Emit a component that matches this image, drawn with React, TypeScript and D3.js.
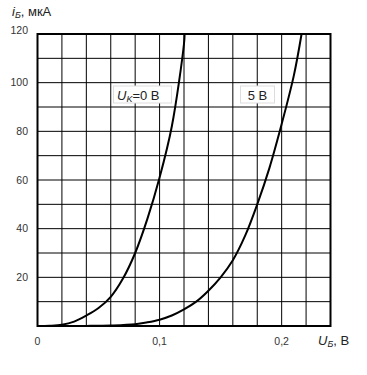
import React from 'react';
import * as d3 from 'd3';

// Input characteristic, Uk = 0 V
const ub0 = [0, 0.01, 0.02, 0.03, 0.04, 0.05, 0.06, 0.07, 0.08, 0.09, 0.1, 0.11, 0.12, 0.1205];
const ib0 = [0, 0.1, 0.5, 1.8, 4.3, 7.4, 12, 19.5, 30, 44, 61, 82, 116, 120];

// Uk = 5 V
const ub5 = [0, 0.04, 0.06, 0.08, 0.09, 0.1, 0.11, 0.12, 0.13, 0.14, 0.15, 0.16, 0.17, 0.18, 0.19, 0.2, 0.21, 0.2163];
const ib5 = [0, 0.05, 0.2, 0.7, 1.5, 2.6, 4.3, 6.8, 10, 14.5, 20, 27, 37, 50, 65, 83, 103, 120];

const xTicks = [0, 0.1, 0.2];
const xTickLabels = ['0', '0,1', '0,2'];
const yTicks = [20, 40, 60, 80, 100, 120];

const W = 367;
const H = 375;
const margin = { top: 34, right: 36.5, bottom: 49, left: 37.5 };

const App: React.FC = () => {
    const x = d3.scaleLinear().domain([0, 0.24]).range([margin.left, W - margin.right]);
    const y = d3.scaleLinear().domain([0, 120]).range([H - margin.bottom, margin.top]);

    const line = d3.line<[number, number]>()
        .x(d => x(d[0]))
        .y(d => y(d[1]))
        .curve(d3.curveCatmullRom.alpha(0.5));

    const pts0 = ub0.map((u, i) => [u, ib0[i]] as [number, number]);
    const pts5 = ub5.map((u, i) => [u, ib5[i]] as [number, number]);

    const xGrid = d3.range(0, 13).map(i => i * 0.02);
    const yGrid = d3.range(0, 13).map(i => i * 10);

    const font = 'Liberation Sans, Arial, sans-serif';

    return (
        <svg width={W} height={H} style={{ position: 'absolute', left: 0, top: 0 }} fontFamily={font}>
            <rect width={W} height={H} fill="#fff" />
            {/* grid */}
            <g stroke="#000" strokeWidth={1}>
                {xGrid.map((v, i) => (
                    <line key={'gx' + i} x1={x(v)} x2={x(v)} y1={y(0)} y2={y(120)} />
                ))}
                {yGrid.map((v, i) => (
                    <line key={'gy' + i} x1={x(0)} x2={x(0.24)} y1={y(v)} y2={y(v)} />
                ))}
            </g>
            {/* frame */}
            <rect x={x(0)} y={y(120)} width={x(0.24) - x(0)} height={y(0) - y(120)}
                fill="none" stroke="#000" strokeWidth={2} />

            {/* curves */}
            <path d={line(pts0) || ''} fill="none" stroke="#000" strokeWidth={2} />
            <path d={line(pts5) || ''} fill="none" stroke="#000" strokeWidth={2} />

            {/* curve labels */}
            <rect x={113.5} y={86} width={58} height={17} fill="#fff" stroke="#ddd" strokeWidth={1} />
            <text x={117} y={100} fontSize={13} fill="#222">
                <tspan fontStyle="italic">U</tspan>
                <tspan fontStyle="italic" fontSize={9} dy={2}>K</tspan>
                <tspan dy={-2}>=0 В</tspan>
            </text>
            <rect x={240.5} y={86} width={34} height={17} fill="#fff" stroke="#ddd" strokeWidth={1} />
            <text x={257.5} y={100} fontSize={13} fill="#222" textAnchor="middle">5 В</text>

            {/* y tick labels */}
            {yTicks.map(v => (
                <text key={'yt' + v} x={28} y={y(v) + (v === 120 ? -4 : 0)} dy="0.35em"
                    fontSize={10.5} fill="#333" textAnchor="end">{v}</text>
            ))}
            {/* x tick labels */}
            {xTicks.map((v, i) => (
                <text key={'xt' + i} x={x(v)} y={345} fontSize={10.5} fill="#333" textAnchor="middle">
                    {xTickLabels[i]}
                </text>
            ))}

            {/* axis titles */}
            <text x={12} y={16} fontSize={13} fill="#222">
                <tspan fontStyle="italic">i</tspan>
                <tspan fontStyle="italic" fontSize={9} dy={2}>Б</tspan>
                <tspan dy={-2}>, мкА</tspan>
            </text>
            <text x={318} y={345} fontSize={13} fill="#222">
                <tspan fontStyle="italic">U</tspan>
                <tspan fontStyle="italic" fontSize={9} dy={2}>Б</tspan>
                <tspan dy={-2}>, В</tspan>
            </text>
        </svg>
    );
};

export default App;
